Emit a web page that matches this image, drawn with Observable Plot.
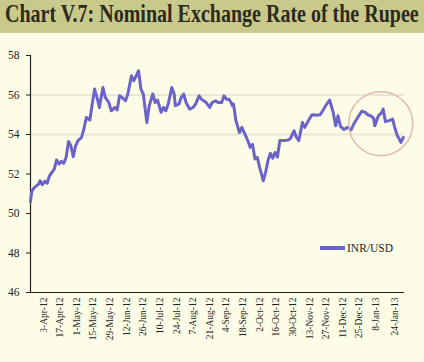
<!DOCTYPE html>
<html><head><meta charset="utf-8">
<script src="https://cdn.jsdelivr.net/npm/d3@7"></script>
<script src="https://cdn.jsdelivr.net/npm/@observablehq/plot@0.6"></script>
<style>
html,body{margin:0;padding:0;background:#fdfde7;}
#wrap{position:relative;width:424px;height:362px;background:#fdfde7;overflow:hidden;font-family:"Liberation Serif","Times New Roman",serif;}
#title{position:absolute;left:0;top:0;width:424px;height:33px;background:#c9c98b;}
#title span{position:absolute;left:5px;top:1px;font-weight:bold;font-size:20px;line-height:20px;color:#2b2b1e;white-space:nowrap;transform:scaleY(1.22);transform-origin:left top;}
#chart{position:absolute;left:0;top:33px;}
#legend{position:absolute;left:320px;top:240px;height:16px;display:flex;align-items:center;font-size:11.5px;color:#222;}
#legend i{display:inline-block;width:25px;height:4px;background:#6b63c9;margin-right:2px;}
</style></head>
<body><div id="wrap">
<div id="title"><span>Chart V.7: Nominal Exchange Rate of the Rupee</span></div>
<div id="chart"></div>
<div id="legend"><i></i><span>INR/USD</span></div>
</div>
<script>
const dates = ["2012-03-23","2012-03-24","2012-03-26","2012-03-30","2012-03-31","2012-04-02","2012-04-04","2012-04-06","2012-04-08","2012-04-12","2012-04-14","2012-04-16","2012-04-18","2012-04-20","2012-04-22","2012-04-24","2012-04-26","2012-04-28","2012-04-30","2012-05-02","2012-05-05","2012-05-07","2012-05-09","2012-05-12","2012-05-14","2012-05-16","2012-05-18","2012-05-20","2012-05-23","2012-05-25","2012-05-28","2012-05-30","2012-06-02","2012-06-04","2012-06-06","2012-06-08","2012-06-11","2012-06-13","2012-06-16","2012-06-18","2012-06-20","2012-06-22","2012-06-24","2012-06-26","2012-06-29","2012-07-01","2012-07-04","2012-07-06","2012-07-08","2012-07-11","2012-07-13","2012-07-15","2012-07-17","2012-07-20","2012-07-22","2012-07-23","2012-07-26","2012-07-28","2012-07-30","2012-08-01","2012-08-04","2012-08-07","2012-08-09","2012-08-12","2012-08-14","2012-08-18","2012-08-21","2012-08-23","2012-08-26","2012-08-28","2012-08-31","2012-09-02","2012-09-04","2012-09-06","2012-09-08","2012-09-09","2012-09-10","2012-09-12","2012-09-15","2012-09-17","2012-09-19","2012-09-22","2012-09-24","2012-09-26","2012-09-28","2012-09-30","2012-10-02","2012-10-05","2012-10-07","2012-10-09","2012-10-11","2012-10-13","2012-10-15","2012-10-17","2012-10-19","2012-10-23","2012-10-26","2012-10-28","2012-10-31","2012-11-02","2012-11-04","2012-11-07","2012-11-09","2012-11-12","2012-11-15","2012-11-19","2012-11-22","2012-11-25","2012-11-27","2012-11-30","2012-12-03","2012-12-05","2012-12-07","2012-12-09","2012-12-12","2012-12-15","2012-12-18","2012-12-21","2012-12-24","2012-12-27","2012-12-30","2013-01-01","2013-01-04","2013-01-06","2013-01-07","2013-01-10","2013-01-13","2013-01-14","2013-01-16","2013-01-19","2013-01-22","2013-01-24","2013-01-26","2013-01-27","2013-01-29","2013-01-31"];
const inrUsd = [50.6,51.1,51.3,51.5,51.66,51.46,51.63,51.53,51.91,52.25,52.71,52.51,52.64,52.54,52.84,53.65,53.43,52.88,53.43,53.69,53.85,54.28,54.86,54.73,55.54,56.3,55.88,55.37,56.38,55.88,55.62,55.2,55.37,55.24,55.96,55.88,55.71,56.05,56.97,56.72,56.97,57.23,56.3,56.05,54.6,55.46,56.05,55.62,55.74,55.12,55.37,55.2,55.54,56.38,56.05,55.46,55.54,55.88,56.05,55.62,55.29,55.37,55.54,55.96,55.79,55.62,55.37,55.62,55.71,55.62,55.62,55.96,55.79,55.79,55.62,55.46,55.54,54.7,54.1,54.36,54.1,53.69,53.35,53.5,52.76,52.84,52.34,51.66,52.08,52.67,53.05,52.8,53.09,52.86,53.69,53.69,53.72,53.8,54.19,53.85,53.69,54.61,54.36,54.7,55.0,54.98,55.0,55.29,55.5,55.74,55.1,54.44,54.95,54.42,54.25,54.36,54.23,54.61,54.9,55.18,55.12,55.0,54.93,54.82,54.44,54.95,55.12,55.29,54.65,54.7,54.78,54.3,53.94,53.84,53.6,53.85];
const tickLabels = ["2012-04-03","2012-04-17","2012-05-01","2012-05-15","2012-05-29","2012-06-12","2012-06-26","2012-07-10","2012-07-24","2012-08-07","2012-08-21","2012-09-04","2012-09-18","2012-10-02","2012-10-16","2012-10-30","2012-11-13","2012-11-27","2012-12-11","2012-12-25","2013-01-08","2013-01-24"];
const yTicks = [46,48,50,52,54,56,58];
const gridValues = [54,56];
const highlight = [{date:"2013-01-12", value:54.55}];

const data = dates.map((d,i)=>({date:new Date(d), value:inrUsd[i]}));
const xStart = new Date("2012-03-23"), xEnd = new Date("2013-02-01");

const chart = Plot.plot({
  width:424, height:329,
  marginLeft:30, marginRight:20, marginTop:22, marginBottom:70,
  style:{background:"transparent", fontFamily:"'Liberation Serif','Times New Roman',serif", fontSize:"11.5px", color:"#222"},
  x:{type:"utc", domain:[xStart,xEnd], ticks:tickLabels.map(d=>new Date(d)), tickFormat:d3.utcFormat("%-d-%b-%y"), tickRotate:-90, tickSize:0, tickPadding:5, label:null},
  y:{domain:[46,58], ticks:yTicks, tickSize:4, tickPadding:7, label:null},
  marks:[
    Plot.ruleY(gridValues,{stroke:"#e8e8d2", strokeWidth:2}),
    Plot.ruleX([xStart],{stroke:"#222", strokeWidth:1.2}),
    Plot.ruleY([46],{stroke:"#222", strokeWidth:1.2}),
    Plot.line(data,{x:"date", y:"value", stroke:"#6b63c9", strokeWidth:3, strokeLinejoin:"round"}),
    Plot.dot(highlight,{x:d=>new Date(d.date), y:"value", r:32, stroke:"#e3b8ab", strokeWidth:1.5})
  ]
});
chart.querySelectorAll('[aria-label^="x-axis"] text').forEach(t=>{t.style.fontSize="9.5px";});
document.getElementById("chart").appendChild(chart);
</script>
</body></html>
